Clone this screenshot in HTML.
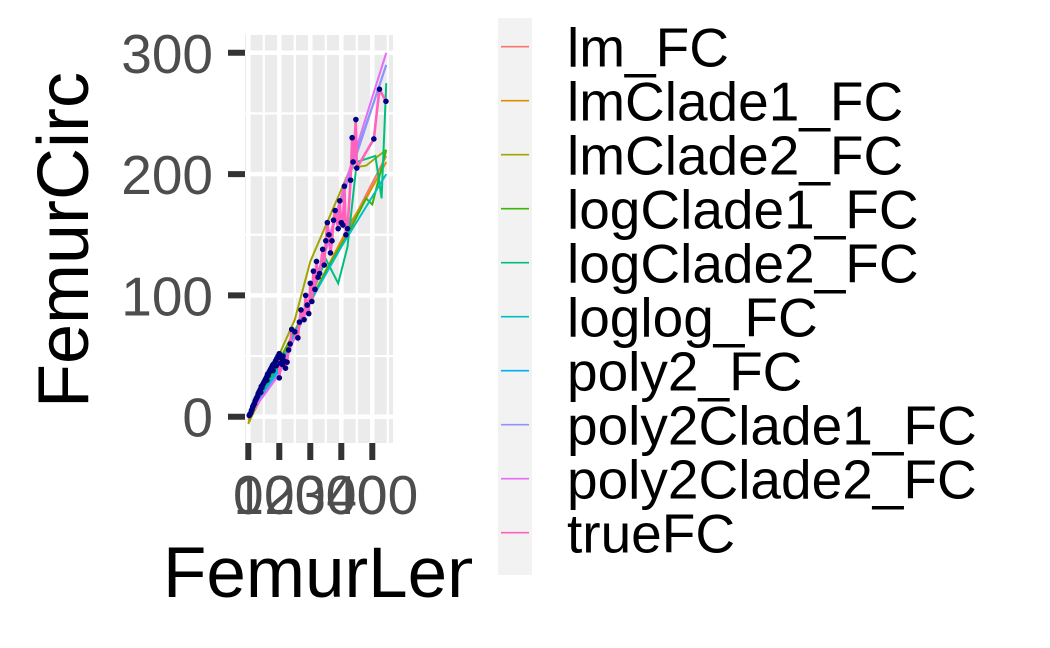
<!DOCTYPE html>
<html><head><meta charset="utf-8"><style>
body{margin:0;background:#fff}
svg{display:block;font-family:"Liberation Sans",Arial,sans-serif}
</style></head><body>
<svg id="chart" width="1050" height="648" viewBox="0 0 1050 648" xmlns="http://www.w3.org/2000/svg">
<rect width="1050" height="648" fill="#fff"/>
<defs><clipPath id="pc"><rect x="245" y="35" width="148" height="408"/></clipPath>
<clipPath id="tc"><rect x="0" y="0" width="472" height="648"/></clipPath></defs>
<rect x="245" y="35" width="148" height="408" fill="#ebebeb"/>
<g id="grid"></g>
<g id="lines" clip-path="url(#pc)"></g>
<g id="pts" clip-path="url(#pc)"></g>
<g id="axes"></g>
<text transform="translate(88,240) rotate(-90)" text-anchor="middle" font-size="72" fill="#000">FemurCirc</text>
<text clip-path="url(#tc)" x="163" y="597" font-size="71" fill="#000">FemurLength</text>
<rect x="498" y="18" width="34" height="557" fill="#f2f2f2"/>
<g id="legend"></g>
</svg>
<script>
const xTicks=[0,100,200,300,400];
const yTicks=[0,100,200,300];
const seriesNames=["lm_FC","lmClade1_FC","lmClade2_FC","logClade1_FC","logClade2_FC","loglog_FC","poly2_FC","poly2Clade1_FC","poly2Clade2_FC","trueFC"];
const seriesColors=["#F8766D","#D89000","#A3A500","#39B600","#00BF7D","#00BFC4","#00B0F6","#9590FF","#E76BF3","#FF62BC"];
const ptX=[3,5,8,10,12,14,16,18,20,22,24,26,28,30,32,34,36,38,40,42,44,46,48,50,52,54,56,58,60,62,64,66,68,70,72,74,76,78,80,84,88,92,96,100,40,60,80,90,110,100,104,108,112,116,120,125,130,135,140,150,160,165,170,180,185,190,195,200,205,210,215,220,225,230,240,245,250,255,260,265,270,275,280,290,295,300,305,310,315,320,330,335,338,347,350,405,423,444];
const ptY=[1,2,3,5,6,8,9,10,11,13,14,15,16,17,19,20,21,22,23,25,24,26,27,28,29,30,31,32,33,35,34,36,37,38,39,40,41,42,43,44,46,48,50,52,20,30,38,42,43,32,44,48,50,46,40,45,55,60,72,70,65,78,88,80,100,92,85,110,95,120,105,128,115,118,138,125,145,160,150,135,145,162,170,155,178,160,158,190,150,155,195,230,210,245,205,229,270,260];
const lmX=[0,445];const lmY=[-5,215];
const lmC1X=[0,330,380,445];const lmC1Y=[-3,160,180,210];
const lmC2X=[0,150,200,330,380,445];const lmC2Y=[-6,80,128,205,207,220];
const logC1X=[0,150,250,320,380,400,445];const logC1Y=[0,70,120,150,180,175,220];
const logC2X=[0,150,250,290,320,350,410,430,445];const logC2Y=[0,65,130,110,140,210,215,180,275];
const loglogX=[0,100,200,300,445];const loglogY=[0,40,95,140,200];
const poly2X=[0,100,200,300,445];const poly2Y=[0,38,98,180,290];
const p2c1X=[0,100,200,300,445];const p2c1Y=[0,36,96,178,290];
const p2c2X=[0,100,200,300,445];const p2c2Y=[0,35,95,182,300];
const fitX=[lmX,lmC1X,lmC2X,logC1X,logC2X,loglogX,poly2X,p2c1X,p2c2X];
const fitY=[lmY,lmC1Y,lmC2Y,logC1Y,logC2Y,loglogY,poly2Y,p2c1Y,p2c2Y];
const NS="http://www.w3.org/2000/svg";
const sx=v=>248.3+v*0.31, sy=v=>416.7-v*1.213;
function mk(tag,attrs,parent){const e=document.createElementNS(NS,tag);for(const k in attrs)e.setAttribute(k,attrs[k]);parent.appendChild(e);return e;}
const grid=document.getElementById('grid'),axes=document.getElementById('axes'),lines=document.getElementById('lines'),pts=document.getElementById('pts'),leg=document.getElementById('legend');
xTicks.forEach((t,i)=>{
 const g=mk('line',{x1:sx(t),x2:sx(t),y1:35,y2:443,stroke:'#fff','stroke-width':4.5},grid);
 
 const m=mk('line',{x1:sx(t+50),x2:sx(t+50),y1:35,y2:443,stroke:'#fff','stroke-width':2.2},grid);
 
 const tk=mk('line',{x1:sx(t),x2:sx(t),y1:443,y2:460,stroke:'#333','stroke-width':6},axes);
 
 const tl=mk('text',{x:sx(t),y:514,'text-anchor':'middle','font-size':55,fill:'#4d4d4d'},axes);
 tl.textContent=t;
});
const mx=mk('line',{x1:sx(-50),x2:sx(-50),y1:35,y2:443,stroke:'#fff','stroke-width':2.2},grid);
yTicks.forEach(t=>{
 const g=mk('line',{x1:245,x2:393,y1:sy(t),y2:sy(t),stroke:'#fff','stroke-width':4.5},grid);
 
 const m=mk('line',{x1:245,x2:393,y1:sy(t+50),y2:sy(t+50),stroke:'#fff','stroke-width':2.2},grid);
 
 const tk=mk('line',{x1:228,x2:245,y1:sy(t),y2:sy(t),stroke:'#333','stroke-width':6},axes);
 
 const tl=mk('text',{x:213,y:sy(t)+20,'text-anchor':'end','font-size':55,fill:'#4d4d4d'},axes);
 tl.textContent=t;
});
fitX.forEach((xs,i)=>{
 const p=mk('polyline',{points:xs.map((x,j)=>sx(x)+','+sy(fitY[i][j])).join(' '),fill:'none',stroke:seriesColors[i],'stroke-width':2},lines);
 
});
const order=ptX.map((x,i)=>i).sort((a,b)=>ptX[a]-ptX[b]);
const tl=mk('polyline',{points:order.map(i=>sx(ptX[i])+','+sy(ptY[i])).join(' '),fill:'none',stroke:seriesColors[9],'stroke-width':2.6},lines);

ptX.forEach((x,i)=>{
 const c=mk('circle',{cx:sx(x),cy:sy(ptY[i]),r:2.8,fill:'#000080'},pts);
 
});
seriesNames.forEach((n,i)=>{
 const y=46.7+i*54;
 const k=mk('line',{x1:501,x2:529,y1:y,y2:y,stroke:seriesColors[i],'stroke-width':1.6},leg);
 
 const t=mk('text',{x:567,y:y+20,'font-size':55,fill:'#000'},leg);
 t.textContent=n;
});
</script>
</body></html>
